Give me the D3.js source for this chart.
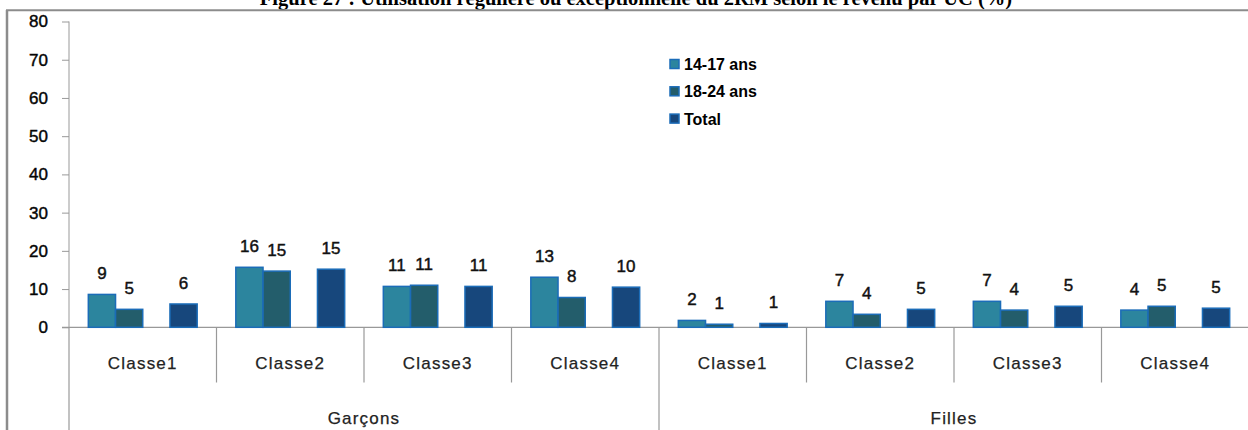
<!DOCTYPE html>
<html>
<head>
<meta charset="utf-8">
<script src="https://cdn.jsdelivr.net/npm/d3@7"></script>
<style>
  body { margin: 0; background: #fff; }
  svg { display: block; }
  .heavy { stroke: #111; stroke-width: 0.45px; }
  .mid { stroke: #222; stroke-width: 0.25px; }
</style>
</head>
<body>
<div id="chart"></div>
<script>
// data
let groups = ["Garçons", "Filles"];
let classes = ["Classe1", "Classe2", "Classe3", "Classe4"];
let seriesNames = ["14-17 ans", "18-24 ans", "Total"];
let colors = ["#2c859e", "#235d6b", "#17477c"];

// bar heights (approx) per group, per classe
let ados = [8.6, 15.7, 10.7, 13.1, 1.8, 6.8, 6.8, 4.5];
let jeunes = [4.7, 14.7, 11.0, 7.8, 0.8, 3.4, 4.5, 5.5];
let total = [6.1, 15.2, 10.7, 10.5, 1.0, 4.7, 5.5, 5.0];
// labels shown above the bars
let adosLbl = [9, 16, 11, 13, 2, 7, 7, 4];
let jeunesLbl = [5, 15, 11, 8, 1, 4, 4, 5];
let totalLbl = [6, 15, 11, 10, 1, 5, 5, 5];

let yTicks = [0, 10, 20, 30, 40, 50, 60, 70, 80];

let title = "Figure 27 : Utilisation régulière ou exceptionnelle du 2RM selon le revenu par UC (%)";

let width = 1248, height = 430;

let svg = d3.select("#chart")
  .append("svg")
  .attr("width", width)
  .attr("height", height);

// title (cut by the top of the picture, as in the source)
svg.append("text")
  .attr("x", 636)
  .attr("y", 5)
  .attr("text-anchor", "middle")
  .style("font-family", "'Liberation Serif', 'Times New Roman', serif")
  .style("font-weight", "bold")
  .style("font-size", "20.5px")
  .text(title);

// frame
svg.append("line")
  .attr("x1", 6).attr("x2", width)
  .attr("y1", 10.3).attr("y2", 10.3)
  .attr("stroke", "#8c8c8c").attr("stroke-width", 2);
svg.append("line")
  .attr("x1", 7).attr("x2", 7)
  .attr("y1", 10).attr("y2", height)
  .attr("stroke", "#8c8c8c").attr("stroke-width", 2.5);

let cats = [];
groups.forEach(function(g) {
  classes.forEach(function(c) { cats.push(g + "|" + c); });
});

let rows = cats.map(function(k, i) {
  return {
    key: k,
    group: k.split("|")[0],
    classe: k.split("|")[1],
    values: [
      { s: seriesNames[0], v: ados[i], l: adosLbl[i], c: colors[0] },
      { s: seriesNames[1], v: jeunes[i], l: jeunesLbl[i], c: colors[1] },
      { s: seriesNames[2], v: total[i], l: totalLbl[i], c: colors[2] }
    ]
  };
});

let x0 = d3.scaleBand()
  .domain(cats)
  .range([69, 69 + 8 * 147.5])
  .padding(0);

// 4 slots, the third one stays empty
let x1 = d3.scaleBand()
  .domain([seriesNames[0], seriesNames[1], "", seriesNames[2]])
  .range([0, x0.bandwidth()])
  .paddingInner(0)
  .paddingOuter(0.71);

let y = d3.scaleLinear()
  .domain([0, 80])
  .range([327.3, 21.5]);

// y axis
let yAxis = svg.append("g")
  .attr("transform", "translate(69,0)")
  .call(d3.axisLeft(y).tickValues(yTicks).tickSize(7).tickPadding(14));
yAxis.select(".domain").attr("stroke", "#999").attr("d", "M0," + y(80) + "V" + y(0));
yAxis.selectAll(".tick line").attr("stroke", "#999");
yAxis.selectAll(".tick text")
  .attr("fill", "#000")
  .attr("class", "heavy")
  .style("font-family", "'Liberation Sans', Arial, sans-serif")
  .style("font-size", "17px");

// baseline
svg.append("line")
  .attr("x1", 62).attr("x2", width)
  .attr("y1", y(0)).attr("y2", y(0))
  .attr("stroke", "#999").attr("stroke-width", 1.2);

// category dividers
let divs = d3.range(0, cats.length + 1);
svg.selectAll(".div")
  .data(divs)
  .enter().append("line")
  .attr("class", "div")
  .attr("x1", function(d) { return d == cats.length ? x0.range()[1] : x0(cats[d]); })
  .attr("x2", function(d) { return d == cats.length ? x0.range()[1] : x0(cats[d]); })
  .attr("y1", y(0))
  .attr("y2", function(d) { return d % 4 == 0 ? height : 382.5; })
  .attr("stroke", "#999")
  .attr("stroke-width", 1.2);

let cat = svg.selectAll(".cat")
  .data(rows)
  .enter().append("g")
  .attr("class", "cat")
  .attr("transform", function(d) { return "translate(" + x0(d.key) + ",0)"; });

cat.selectAll("rect")
  .data(function(d) { return d.values; })
  .enter().append("rect")
  .attr("x", function(d) { return x1(d.s); })
  .attr("y", function(d) { return y(d.v); })
  .attr("width", x1.bandwidth())
  .attr("height", function(d) { return y(0) - y(d.v); })
  .attr("fill", function(d) { return d.c; })
  .attr("stroke", "#1b6cb8")
  .attr("stroke-width", 1.5);

cat.selectAll(".lbl")
  .data(function(d) { return d.values; })
  .enter().append("text")
  .attr("class", "lbl heavy")
  .attr("x", function(d) { return x1(d.s) + x1.bandwidth() / 2; })
  .attr("y", function(d) { return y(d.v) - 15; })
  .attr("text-anchor", "middle")
  .style("font-family", "'Liberation Sans', Arial, sans-serif")
  .style("font-size", "17px")
  .attr("fill", "#111")
  .text(function(d) { return d.l; });

cat.append("text")
  .attr("x", x0.bandwidth() / 2)
  .attr("y", 369)
  .attr("class", "mid")
  .attr("text-anchor", "middle")
  .style("font-family", "'Liberation Sans', Arial, sans-serif")
  .style("font-size", "17px")
  .style("letter-spacing", "1.2px")
  .attr("fill", "#222")
  .text(function(d) { return d.classe; });

// group labels
svg.selectAll(".grp")
  .data(groups)
  .enter().append("text")
  .attr("class", "grp mid")
  .attr("x", function(g) { return x0(g + "|" + classes[0]) + 2 * x0.bandwidth(); })
  .attr("y", 424)
  .attr("text-anchor", "middle")
  .style("font-family", "'Liberation Sans', Arial, sans-serif")
  .style("font-size", "17px")
  .style("letter-spacing", "1.2px")
  .attr("fill", "#222")
  .text(function(g) { return g; });

// legend
let legend = svg.selectAll(".leg")
  .data(seriesNames)
  .enter().append("g")
  .attr("class", "leg")
  .attr("transform", function(d, i) { return "translate(670," + (59.5 + i * 27.3) + ")"; });

legend.append("rect")
  .attr("width", 9)
  .attr("height", 9)
  .attr("fill", function(d, i) { return colors[i]; })
  .attr("stroke", "#1b6cb8")
  .attr("stroke-width", 1.5);

legend.append("text")
  .attr("x", 14)
  .attr("y", 10.5)
  .style("font-family", "'Liberation Sans', Arial, sans-serif")
  .style("font-size", "16px")
  .style("font-weight", "bold")
  .attr("fill", "#000")
  .text(function(d) { return d; });
</script>
</body>
</html>
